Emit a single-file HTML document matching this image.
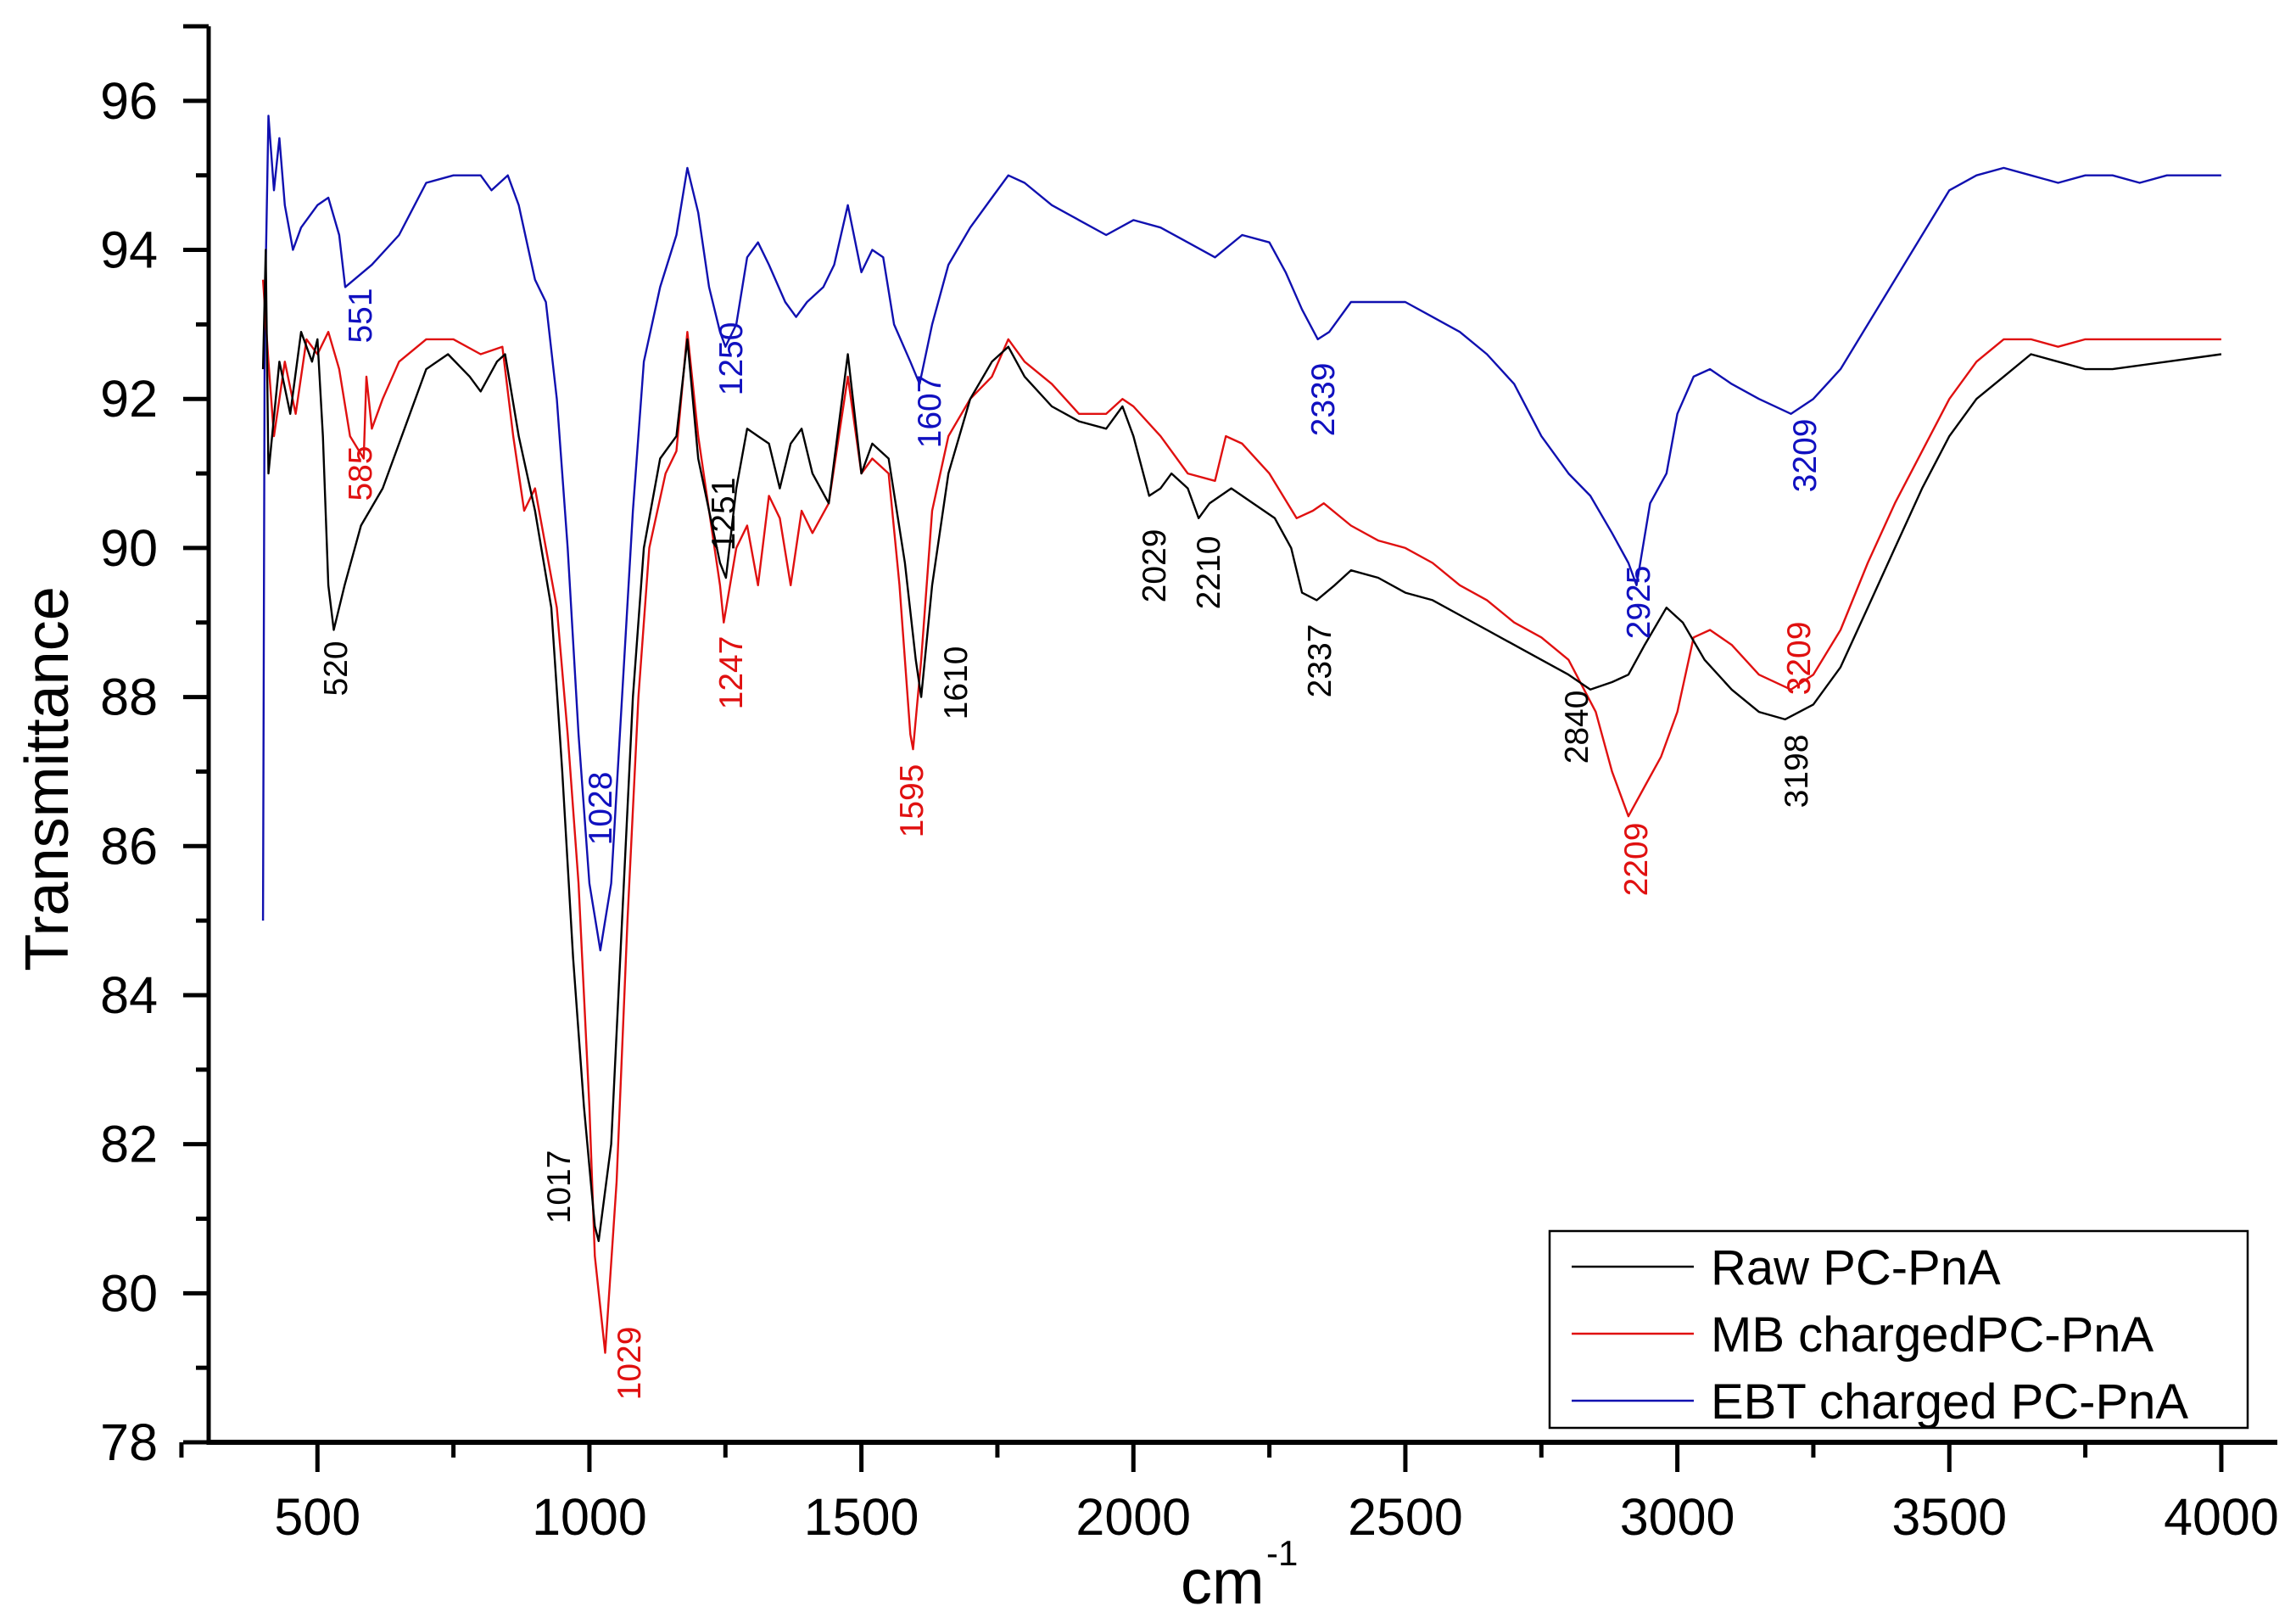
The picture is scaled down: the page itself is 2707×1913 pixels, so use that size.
<!DOCTYPE html>
<html><head><meta charset="utf-8"><style>
html,body{margin:0;padding:0;background:#fff;}
svg{display:block;font-family:"Liberation Sans",Arial,sans-serif;}
</style></head><body>
<svg id="chart" width="2707" height="1913" viewBox="0 0 2707 1913"></svg>
<script>
const xTicks=[500,1000,1500,2000,2500,3000,3500,4000];
const yTicks=[78,80,82,84,86,88,90,92,94,96];
const rawX=[400,405,410,430,450,470,490,500,510,520,530,550,580,620,660,700,740,780,800,830,845,870,900,930,950,970,990,1010,1017,1040,1060,1080,1100,1130,1160,1180,1200,1220,1240,1251,1270,1290,1310,1330,1350,1370,1390,1410,1440,1475,1500,1520,1550,1580,1600,1610,1630,1660,1700,1740,1770,1800,1850,1900,1950,1980,2000,2029,2050,2070,2100,2120,2140,2180,2220,2260,2290,2310,2337,2370,2400,2450,2500,2550,2600,2650,2700,2750,2800,2840,2880,2910,2940,2980,3010,3050,3100,3150,3198,3250,3300,3350,3400,3450,3500,3550,3600,3650,3700,3750,3800,3900,4000];
const rawY=[92.4,94.0,91.0,92.5,91.8,92.9,92.5,92.8,91.5,89.5,88.9,89.5,90.3,90.8,91.6,92.4,92.6,92.3,92.1,92.5,92.6,91.5,90.5,89.2,87.0,84.5,82.5,80.9,80.7,82,85,88,90,91.2,91.5,92.8,91.2,90.5,89.8,89.6,90.8,91.6,91.5,91.4,90.8,91.4,91.6,91.0,90.6,92.6,91.0,91.4,91.2,89.8,88.5,88.0,89.5,91,92,92.5,92.7,92.3,91.9,91.7,91.6,91.9,91.5,90.7,90.8,91.0,90.8,90.4,90.6,90.8,90.6,90.4,90.0,89.4,89.3,89.5,89.7,89.6,89.4,89.3,89.1,88.9,88.7,88.5,88.3,88.1,88.2,88.3,88.7,89.2,89.0,88.5,88.1,87.8,87.7,87.9,88.4,89.2,90.0,90.8,91.5,92.0,92.3,92.6,92.5,92.4,92.4,92.5,92.6];
const mbX=[400,410,420,440,460,480,500,520,540,560,585,590,600,620,650,700,750,800,840,860,880,900,920,940,960,980,1000,1010,1029,1050,1070,1090,1110,1140,1160,1180,1200,1220,1240,1247,1270,1290,1310,1330,1350,1370,1390,1410,1440,1475,1500,1520,1550,1570,1590,1595,1610,1630,1660,1700,1740,1770,1800,1850,1900,1950,1980,2000,2050,2100,2150,2170,2200,2250,2300,2330,2350,2400,2450,2500,2550,2600,2650,2700,2750,2800,2850,2880,2910,2940,2970,3000,3030,3060,3100,3150,3209,3250,3300,3350,3400,3450,3500,3550,3600,3650,3700,3750,3800,3900,4000];
const mbY=[93.6,92.5,91.5,92.5,91.8,92.8,92.6,92.9,92.4,91.5,91.2,92.3,91.6,92.0,92.5,92.8,92.8,92.6,92.7,91.5,90.5,90.8,90.0,89.2,87.5,85.5,82.5,80.5,79.2,81.5,85,88,90,91,91.3,92.9,91.5,90.5,89.5,89.0,90.0,90.3,89.5,90.7,90.4,89.5,90.5,90.2,90.6,92.3,91.0,91.2,91.0,89.5,87.5,87.3,88.5,90.5,91.5,92.0,92.3,92.8,92.5,92.2,91.8,91.8,92.0,91.9,91.5,91.0,90.9,91.5,91.4,91.0,90.4,90.5,90.6,90.3,90.1,90.0,89.8,89.5,89.3,89.0,88.8,88.5,87.8,87.0,86.4,86.8,87.2,87.8,88.8,88.9,88.7,88.3,88.1,88.3,88.9,89.8,90.6,91.3,92.0,92.5,92.8,92.8,92.7,92.8,92.8,92.8,92.8];
const ebtX=[400,403,410,420,430,440,455,470,500,520,540,551,600,650,700,750,800,820,850,870,900,920,940,960,980,1000,1020,1040,1060,1080,1100,1130,1160,1180,1200,1220,1240,1250,1270,1290,1310,1330,1360,1380,1400,1430,1450,1475,1500,1520,1540,1560,1590,1607,1630,1660,1700,1740,1770,1800,1850,1900,1950,2000,2050,2100,2150,2200,2250,2280,2310,2339,2360,2400,2450,2500,2550,2600,2650,2700,2750,2800,2840,2880,2910,2925,2950,2980,3000,3030,3060,3100,3150,3209,3250,3300,3350,3400,3450,3500,3550,3600,3650,3700,3750,3800,3850,3900,4000];
const ebtY=[85.0,93.0,95.8,94.8,95.5,94.6,94.0,94.3,94.6,94.7,94.2,93.5,93.8,94.2,94.9,95.0,95.0,94.8,95.0,94.6,93.6,93.3,92.0,90,87.5,85.5,84.6,85.5,88,90.5,92.5,93.5,94.2,95.1,94.5,93.5,92.9,92.7,93.0,93.9,94.1,93.8,93.3,93.1,93.3,93.5,93.8,94.6,93.7,94.0,93.9,93.0,92.5,92.2,93.0,93.8,94.3,94.7,95.0,94.9,94.6,94.4,94.2,94.4,94.3,94.1,93.9,94.2,94.1,93.7,93.2,92.8,92.9,93.3,93.3,93.3,93.1,92.9,92.6,92.2,91.5,91.0,90.7,90.2,89.8,89.5,90.6,91.0,91.8,92.3,92.4,92.2,92.0,91.8,92.0,92.4,93.0,93.6,94.2,94.8,95.0,95.1,95.0,94.9,95.0,95.0,94.9,95.0,95.0];
const seriesNames=["Raw PC-PnA","MB chargedPC-PnA","EBT charged PC-PnA"];
const peakLabels=[
 ["551","#1010c0",424,372],["1250","#1010c0",861,423],["1607","#1010c0",1095,485],["2339","#1010c0",1559,471],["3209","#1010c0",2127,537],["2925","#1010c0",1931,710],["1028","#1010c0",707,953],
 ["585","#e01010",424,558],["1247","#e01010",861,793],["1595","#e01010",1074,944],["1029","#e01010",741,1607],["2209","#e01010",1928,1013],["3209","#e01010",2120,776],
 ["520","#000",395,788],["1251","#000",852,606],["1610","#000",1126,805],["2029","#000",1360,667],["2210","#000",1424,675],["2337","#000",1555,779],["2840","#000",1858,857],["3198","#000",2117,909],["1017","#000",658,1399]
];
const NS="http://www.w3.org/2000/svg";
const svg=document.getElementById('chart');
const X0=300,X1=4103,PX0=246,PX1=2685;
const Y0=78,Y1=97,PY0=1700,PY1=31;
function sx(v){return PX0+(v-X0)*(PX1-PX0)/(X1-X0);}
function sy(v){return PY0-(v-Y0)*(PY0-PY1)/(Y1-Y0);}
function mk(tag,attrs){const e=document.createElementNS(NS,tag);for(const k in attrs)e.setAttribute(k,attrs[k]);svg.appendChild(e);return e;}
// series
const cols=["#000000","#e01010","#1010b0"];
const sets=[[rawX,rawY,'raw-pc-pna-line'],[mbX,mbY,'mb-charged-line'],[ebtX,ebtY,'ebt-charged-line']];
[2,1,0].forEach(i=>{
 const [xs,ys,nm]=sets[i];
 const d=xs.map((x,j)=>(j?'L':'M')+sx(x).toFixed(1)+' '+sy(ys[j]).toFixed(1)).join(' ');
 const p=mk('path',{d:d,fill:'none',stroke:cols[i],'stroke-width':2.4,'stroke-linejoin':'round'});
 
 
});
// axes
const ax=mk('line',{x1:PX0,y1:PY0,x2:PX1,y2:PY0,stroke:'#000','stroke-width':6});


const ay=mk('line',{x1:PX0,y1:PY0+3,x2:PX0,y2:PY1,stroke:'#000','stroke-width':5});


mk('line',{x1:PX0-30,y1:PY1,x2:PX0,y2:PY1,stroke:'#000','stroke-width':5});
xTicks.forEach(v=>{
 const t=mk('line',{x1:sx(v),y1:PY0,x2:sx(v),y2:PY0+35,stroke:'#000','stroke-width':5});
 
 
 mk('line',{x1:sx(v-250),y1:PY0,x2:sx(v-250),y2:PY0+18,stroke:'#000','stroke-width':5});
 const l=mk('text',{x:sx(v),y:1809,'font-size':61,'text-anchor':'middle',fill:'#000'});
 l.textContent=v;
 
 
});
mk('line',{x1:sx(4250)>PX1?0:0,y1:0,x2:0,y2:0});
yTicks.forEach(v=>{
 const t=mk('line',{x1:PX0-30,y1:sy(v),x2:PX0,y2:sy(v),stroke:'#000','stroke-width':5});
 
 
 if(v<96)mk('line',{x1:PX0-15,y1:sy(v+1),x2:PX0,y2:sy(v+1),stroke:'#000','stroke-width':5});
 const l=mk('text',{x:186,y:sy(v)+21,'font-size':61,'text-anchor':'end',fill:'#000'});
 l.textContent=v;
 
 
});
// titles
const yt=mk('text',{x:0,y:0,'font-size':72,'text-anchor':'middle',fill:'#000',transform:'translate(80,918) rotate(-90)'});
yt.textContent='Transmittance';


const xt=mk('text',{x:1392,y:1890,'font-size':74,fill:'#000'});
xt.textContent='cm';


const xs1=mk('text',{x:1493,y:1845,'font-size':42,fill:'#000'});
xs1.textContent='-1';


// peak labels
peakLabels.forEach(p=>{
 const t=mk('text',{x:0,y:0,'font-size':39,'text-anchor':'middle',fill:p[1],transform:`translate(${p[2]+14},${p[3]}) rotate(-90)`});
 t.textContent=p[0];
 
 
});
// legend
const lb=mk('rect',{x:1827,y:1451,width:823,height:232,fill:'#fff',stroke:'#000','stroke-width':2.5});


seriesNames.forEach((n,i)=>{
 const y=1493+i*79;
 const ln=mk('line',{x1:1853,y1:y,x2:1997,y2:y,stroke:cols[i],'stroke-width':2.5});
 
 
 const t=mk('text',{x:2017,y:y+21,'font-size':58,fill:'#000'});
 t.textContent=n;
 
 
});
</script>
</body></html>
